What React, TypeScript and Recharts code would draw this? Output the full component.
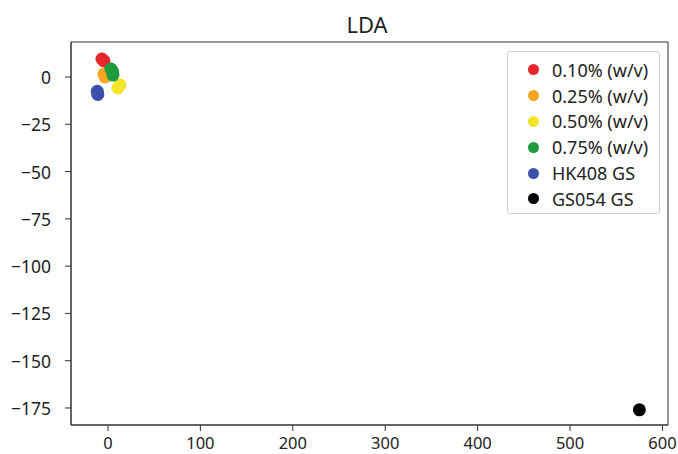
import React from 'react';
import { ScatterChart, Scatter, XAxis, YAxis, ReferenceArea, Legend } from 'recharts';

// LDA projection, one small array per group
const conc010 = [{ x: -6.5, y: 9.5 }, { x: -4.3, y: 8.5 }];
const conc025 = [{ x: -3.2, y: 0 }, { x: -4.3, y: 1.6 }];
const conc050 = [{ x: 13, y: -4.2 }, { x: 10.8, y: -5.8 }];
const conc075 = [{ x: 3.2, y: 4.2 }, { x: 5.1, y: 2.8 }, { x: 5.4, y: 1 }];
const hk408 = [{ x: -11.6, y: -7.6 }, { x: -11, y: -9.2 }];
const gs054 = [{ x: 575, y: -176 }];

const xTicks = [0, 100, 200, 300, 400, 500, 600];
const yTicks = [0, -25, -50, -75, -100, -125, -150, -175];

const series = [
  { name: '0.10% (w/v)', data: conc010, color: '#e8272c' },
  { name: '0.25% (w/v)', data: conc025, color: '#f6a625' },
  { name: '0.50% (w/v)', data: conc050, color: '#f2e62a' },
  { name: '0.75% (w/v)', data: conc075, color: '#1f9a3c' },
  { name: 'HK408 GS', data: hk408, color: '#3b50a8' },
  { name: 'GS054 GS', data: gs054, color: '#000000' },
];

const FONT = '"Noto Sans", sans-serif';

const fmt = (v: number) => (v < 0 ? '\u2212' + Math.abs(v) : String(v));

const XTick = (props: any) => (
  <text
    x={props.x}
    y={props.y + 9}
    textAnchor="middle"
    dominantBaseline="central"
    fontFamily={FONT}
    fontSize={16.5}
    fill="#222"
  >
    {props.payload.value}
  </text>
);

const YTick = (props: any) => (
  <text
    x={props.x - 12}
    y={props.y}
    textAnchor="end"
    dominantBaseline="central"
    fontFamily={FONT}
    fontSize={17.5}
    fill="#222"
  >
    {fmt(props.payload.value)}
  </text>
);

const LegendBox = () => (
  <div
    style={{
      position: 'absolute',
      left: 507,
      top: 51,
      width: 153,
      height: 163,
      boxSizing: 'border-box',
      border: '1px solid #d0d0d0',
      borderRadius: 3,
      background: '#fff',
      fontFamily: FONT,
      fontSize: 18,
      color: '#222',
      paddingTop: 5,
    }}
  >
    {series.map((s) => (
      <div key={s.name} style={{ display: 'flex', alignItems: 'center', height: 25.8 }}>
        <span
          style={{
            display: 'inline-block',
            width: 11,
            height: 11,
            borderRadius: '50%',
            background: s.color,
            marginLeft: 20,
            marginRight: 13,
          }}
        />
        <span>{s.name}</span>
      </div>
    ))}
  </div>
);

const dot = (color: string) => (props: any) => (
  <circle cx={props.cx} cy={props.cy} r={6.5} fill={color} />
);

export default function App() {
  return (
    <div style={{ position: 'fixed', left: 0, top: 0, width: 678, height: 454, background: '#fff' }}>
      <div
        style={{
          position: 'absolute',
          left: 0,
          width: 734,
          top: 13,
          lineHeight: '22px',
          textAlign: 'center',
          fontFamily: FONT,
          fontSize: 22,
          color: '#222',
        }}
      >
        LDA
      </div>
      <ScatterChart width={678} height={454} margin={{ top: 42, right: 10, bottom: 0, left: 0 }}>
        <XAxis
          type="number"
          dataKey="x"
          domain={[-40, 606]}
          ticks={xTicks}
          allowDataOverflow
          height={29}
          tickSize={6}
          tick={XTick}
          stroke="#333"
          interval={0}
        />
        <YAxis
          type="number"
          dataKey="y"
          domain={[-184, 18.5]}
          ticks={yTicks}
          allowDataOverflow
          width={71}
          tickSize={6}
          tick={YTick}
          stroke="#333"
          interval={0}
        />
        <ReferenceArea x1={-40} x2={606} y1={-184} y2={18.5} fill="none" stroke="#333" strokeWidth={1} />
        {series.map((s) => (
          <Scatter
            key={s.name}
            name={s.name}
            data={s.data}
            fill={s.color}
            shape={dot(s.color)}
            isAnimationActive={false}
          />
        ))}
        <Legend content={() => null} />
      </ScatterChart>
      <LegendBox />
    </div>
  );
}
